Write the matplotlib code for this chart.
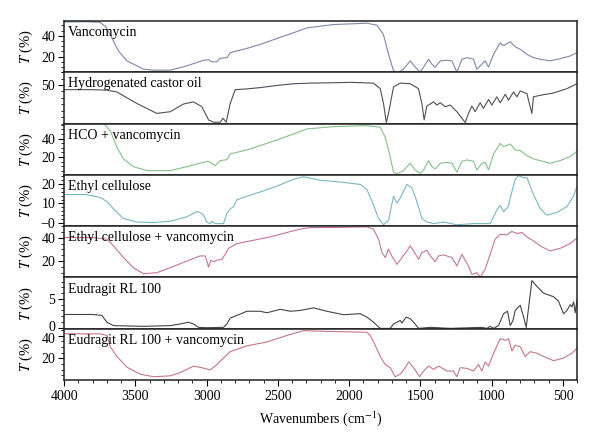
import matplotlib
matplotlib.use('Agg')
import matplotlib.pyplot as plt
import matplotlib.ticker as tkr
import matplotlib.transforms as mtrans

plt.rcParams['font.family'] = ['Liberation Serif', 'DejaVu Serif']
plt.rcParams['mathtext.fontset'] = 'stix'

# --- spectra (wavenumber, %T) ---
vanco_wn = [4000, 3850, 3750, 3710, 3677, 3619, 3560, 3443, 3375, 3256, 3139, 3022, 2987, 2964, 2929,
            2905, 2858, 2835, 2718, 2625, 2507, 2391, 2297, 2110, 1876, 1806, 1760, 1724, 1689, 1654,
            1619, 1572, 1537, 1502, 1478, 1443, 1420, 1396, 1361, 1314, 1279, 1244, 1209, 1174, 1128,
            1104, 1069, 1046, 1022, 987, 940, 917, 870, 835, 800, 753, 707, 660, 590, 519, 449, 402]
vanco_t = [53.3, 53.5, 53.0, 49.0, 41.0, 25.4, 15.9, 7.9, 7.0, 7.0, 11.1, 16.5, 17.0, 15.0, 15.0,
           18.4, 19.0, 23.8, 27.9, 31.7, 37.4, 42.9, 47.6, 50.8, 52.1, 50.2, 41.3, 22.2, 6.3, 5.0,
           7.9, 15.9, 10.0, 5.0, 10.0, 17.5, 12.7, 10.0, 15.9, 16.5, 15.9, 5.0, 17.5, 19.0, 17.5,
           7.9, 12.7, 15.9, 10.0, 22.2, 33.3, 30.5, 34.3, 29.5, 27.0, 22.2, 19.0, 17.5, 15.9, 18.0, 20.6, 23.8]

hco_wn = [4000, 3800, 3700, 3630, 3490, 3350, 3256, 3163, 3093, 3034, 2987, 2952, 2905, 2886, 2863,
          2835, 2800, 2718, 2625, 2507, 2391, 2274, 2110, 1993, 1830, 1782, 1759, 1740, 1724, 1689,
          1642, 1572, 1514, 1490, 1474, 1455, 1408, 1385, 1361, 1326, 1291, 1244, 1186, 1163, 1139,
          1116, 1081, 1058, 1022, 999, 964, 940, 905, 882, 847, 823, 800, 753, 730, 718, 707, 660,
          566, 472, 402]
hco_t = [46.4, 46.4, 46.0, 44.6, 35.6, 27.9, 29.2, 35.2, 36.9, 33.1, 22.8, 21.0, 21.0, 24.1, 21.0,
         35.6, 46.4, 47.0, 48.0, 49.7, 51.0, 51.5, 51.8, 52.1, 51.5, 47.2, 35.6, 20.8, 27.9, 48.5,
         51.5, 51.0, 47.2, 35.6, 22.8, 33.6, 36.9, 34.4, 36.2, 33.1, 34.4, 29.2, 20.8, 27.9, 33.6,
         29.2, 36.2, 31.8, 38.7, 34.4, 40.8, 36.2, 42.8, 38.2, 44.6, 40.8, 45.4, 43.3, 33.1, 27.9, 40.8, 42.0,
         43.8, 47.2, 51.0]

hco_vanco_wn = [4000, 3720, 3677, 3630, 3584, 3514, 3420, 3256, 3139, 3022, 2987, 2940, 2905, 2858, 2835,
                2718, 2625, 2507, 2391, 2297, 2110, 1876, 1782, 1747, 1717, 1689, 1666, 1619, 1572, 1537,
                1502, 1478, 1443, 1420, 1396, 1361, 1314, 1279, 1244, 1209, 1174, 1128, 1104, 1069, 1046,
                1022, 987, 940, 917, 870, 835, 800, 753, 707, 660, 590, 519, 449, 402]
hco_vanco_t = [56.3, 56.3, 48.7, 30.6, 17.8, 9.4, 5.1, 5.1, 9.4, 14.2, 15.3, 10.5, 16.0, 17.1, 23.3,
               27.7, 32.4, 38.5, 45.1, 50.6, 53.1, 54.2, 52.4, 41.5, 23.3, 3.3, 1.5, 5.1, 13.1, 5.8,
               2.2, 5.8, 16.0, 9.4, 6.9, 13.1, 14.2, 13.1, 3.3, 15.3, 16.7, 15.3, 5.8, 13.1, 14.2,
               5.8, 23.3, 34.9, 31.3, 34.2, 27.7, 27.0, 21.5, 17.8, 16.0, 13.1, 16.0, 20.4, 26.2]

ec_wn = [4000, 3850, 3747, 3700, 3654, 3584, 3490, 3373, 3256, 3139, 3069, 3046, 3022, 2999, 2975,
         2964, 2940, 2882, 2858, 2835, 2812, 2788, 2718, 2625, 2507, 2391, 2321, 2204, 2063, 1923,
         1876, 1830, 1794, 1759, 1724, 1689, 1665, 1642, 1595, 1560, 1525, 1490, 1455, 1408, 1338,
         1244, 1127, 1011, 964, 940, 917, 882, 870, 835, 811, 776, 753, 707, 660, 613, 543, 473, 426, 402]
ec_t = [14.6, 14.6, 13.1, 11.0, 7.2, 2.3, 0.5, 0.2, 0.9, 3.2, 5.8, 5.4, 4.0, 0.5, -0.3,
        0.9, -0.3, -0.3, 4.9, 7.2, 8.4, 11.9, 13.7, 15.9, 18.9, 22.4, 23.7, 21.9, 21.0, 19.8,
        17.2, 9.3, 2.3, -0.9, 1.4, 13.7, 10.2, 12.8, 19.8, 18.0, 11.0, 2.3, 0.5, -0.3, 0.5,
        -0.9, -0.3, -0.3, 6.7, 9.0, 5.8, 8.4, 12.8, 22.4, 24.2, 23.3, 23.3, 14.6, 7.5, 4.0, 5.4, 8.4, 13.7, 18.9]

ec_vanco_wn = [4000, 3800, 3700, 3654, 3584, 3514, 3443, 3350, 3256, 3139, 3046, 3011, 2999, 2987, 2971,
               2952, 2929, 2894, 2870, 2847, 2788, 2671, 2554, 2437, 2344, 2274, 2110, 1876, 1830, 1794,
               1770, 1747, 1724, 1701, 1665, 1630, 1595, 1572, 1548, 1513, 1490, 1455, 1431, 1396, 1373,
               1338, 1279, 1244, 1209, 1186, 1163, 1139, 1104, 1081, 1046, 1011, 976, 940, 894, 859,
               823, 788, 753, 706, 660, 590, 519, 449, 402]
ec_vanco_t = [40.3, 40.3, 38.9, 33.1, 23.0, 14.2, 9.0, 9.9, 14.2, 20.0, 24.4, 24.4, 20.0, 14.8, 20.6,
              19.4, 20.6, 21.5, 25.8, 31.0, 35.1, 38.0, 40.9, 44.7, 47.6, 49.0, 49.0, 49.6, 47.6, 38.9,
              27.3, 23.0, 30.2, 24.4, 17.1, 23.0, 28.7, 33.1, 28.7, 21.5, 27.3, 29.3, 24.4, 19.4, 24.4,
              25.3, 23.0, 15.7, 25.8, 20.6, 15.7, 8.4, 9.9, 6.1, 12.8, 25.8, 38.9, 43.2, 42.6, 45.6,
              43.8, 44.7, 40.9, 37.4, 33.1, 28.7, 31.0, 35.1, 39.8]

eud_wn = [4000, 3800, 3736, 3700, 3654, 3443, 3256, 3186, 3128, 3093, 3058, 2999, 2882, 2858, 2835,
          2788, 2718, 2625, 2577, 2484, 2414, 2344, 2250, 2157, 2040, 1923, 1876, 1830, 1782, 1712,
          1689, 1665, 1642, 1630, 1600, 1572, 1537, 1513, 1431, 1291, 1069, 1034, 1011, 987, 952,
          917, 889, 870, 851, 835, 819, 800, 776, 758, 742, 718, 683, 636, 566, 531, 496, 472,
          449, 437, 425, 414, 402]
eud_t = [2.3, 2.3, 2.14, 0.95, 0.36, 0.24, 0.36, 0.65, 0.95, 0.65, 0.06, 0.0, 0.06, 0.65, 1.67,
         2.14, 2.86, 2.86, 2.6, 3.2, 2.86, 3.0, 3.45, 2.86, 2.26, 2.44, 1.85, 0.95, -0.12, -0.12,
         0.65, 0.95, 1.25, 0.83, 1.85, 1.55, 0.65, -0.12, 0.06, -0.12, 0.06, -0.12, 0.24, -0.12, 0.36,
         2.44, 2.86, 0.36, 1.25, 3.0, 3.45, 3.9, 1.85, 0.06, 3.3, 8.2, 7.2, 6.0, 5.4, 4.6, 2.44, 3.0,
         4.0, 3.6, 4.5, 2.6, 4.8]

eud_vanco_wn = [4000, 3750, 3700, 3677, 3630, 3560, 3467, 3373, 3256, 3186, 3093, 3034, 2975, 2929, 2835,
                2718, 2577, 2437, 2321, 2110, 1876, 1853, 1818, 1782, 1747, 1712, 1677, 1642, 1607, 1583,
                1548, 1506, 1478, 1443, 1408, 1373, 1314, 1268, 1244, 1221, 1174, 1128, 1093, 1069, 1046,
                1022, 987, 940, 905, 882, 858, 835, 800, 765, 730, 683, 636, 566, 496, 437, 402]
eud_vanco_t = [41.7, 41.7, 40.3, 30.3, 21.7, 12.3, 6.1, 3.8, 4.6, 7.5, 13.2, 11.8, 9.8, 14.6, 26.0,
               31.1, 34.5, 40.3, 44.5, 43.7, 43.1, 40.3, 31.7, 21.7, 14.6, 11.8, 3.8, 6.1, 11.8, 16.9,
               11.8, 3.8, 8.9, 13.2, 10.3, 13.2, 8.9, 8.9, 3.8, 11.8, 11.2, 8.9, 14.6, 8.9, 16.9,
               13.2, 24.6, 37.4, 36.0, 37.4, 26.6, 31.7, 30.3, 21.7, 26.0, 24.6, 21.7, 18.0, 20.3, 24.6, 28.9]

labels = ['Vancomycin', 'Hydrogenated castor oil', 'HCO + vancomycin', 'Ethyl cellulose',
          'Ethyl cellulose + vancomycin', 'Eudragit RL 100', 'Eudragit RL 100 + vancomycin']
x_ticks = [4000, 3500, 3000, 2500, 2000, 1500, 1000, 500]

spectra = [(vanco_wn, vanco_t), (hco_wn, hco_t), (hco_vanco_wn, hco_vanco_t), (ec_wn, ec_t),
           (ec_vanco_wn, ec_vanco_t), (eud_wn, eud_t), (eud_vanco_wn, eud_vanco_t)]

# per-panel look
COLORS = ['#7d88a6', '#4f4f5a', '#86c08a', '#7cb6c2', '#c4769a', '#454545', '#c47884']
YLIMS = [(5, 54.3), (20, 60), (0.5, 56.5), (-1.6, 24.7), (5.8, 50.2), (-0.18, 8.75), (0.9, 46.2)]
YTICKS = [[20, 40], [50], [20, 40], [0, 10, 20], [20, 40], [0, 5], [20, 40]]
YMINOR = [5, 5, 5, 2, 5, 1, 5]
FS = 10


def main():
    fig, axes = plt.subplots(7, 1, sharex=True, figsize=(6.0, 4.45), dpi=100)
    fig.subplots_adjust(left=0.107, right=0.962, top=0.953, bottom=0.146, hspace=0)

    for i, ax in enumerate(axes):
        wn, t = spectra[i]
        ax.plot(wn, t, color=COLORS[i], lw=0.8)
        ax.set_ylim(*YLIMS[i])
        ax.set_yticks(YTICKS[i])
        if i == 3:
            ax.set_yticklabels(['\u22120', '10', '20'])
        ax.yaxis.set_minor_locator(tkr.MultipleLocator(YMINOR[i]))
        ax.tick_params(axis='y', which='major', labelsize=FS, length=4, width=0.8, direction='out', pad=2.5)
        ax.tick_params(axis='y', which='minor', length=2, width=0.6, direction='out')
        ax.tick_params(axis='x', which='both', bottom=(i == 6), top=False, direction='out')
        for s in ax.spines.values():
            s.set_linewidth(1.1)
            s.set_color('#222222')
        ax.set_ylabel('$T$ (%)', fontsize=FS + 0.5, labelpad=4)
        ax.text(0.008, 0.9, labels[i], transform=ax.transAxes, va='top', ha='left', fontsize=FS)

    # the "0" of Eudragit and the "40" below it sit very close; nudge them apart a little
    nudge_up = mtrans.ScaledTranslation(0, 1.5 / 72, fig.dpi_scale_trans)
    nudge_down = mtrans.ScaledTranslation(0, -1.5 / 72, fig.dpi_scale_trans)
    fig.canvas.draw()
    lbl = axes[5].get_yticklabels()[0]
    lbl.set_transform(lbl.get_transform() + nudge_up)
    lbl = axes[6].get_yticklabels()[-1]
    lbl.set_transform(lbl.get_transform() + nudge_down)

    ax = axes[-1]
    ax.set_xlim(4000, 400)
    ax.set_xticks(x_ticks)
    ax.xaxis.set_minor_locator(tkr.MultipleLocator(100))
    ax.tick_params(axis='x', which='major', labelsize=FS, length=4, width=0.8)
    ax.tick_params(axis='x', which='minor', length=2.5, width=0.6)
    ax.set_xlabel('Wavenumbers (cm$^{-1}$)', fontsize=FS)
    fig.align_ylabels(axes)

    plt.savefig('out.png', dpi=100)
    plt.close()


if __name__ == '__main__':
    main()
